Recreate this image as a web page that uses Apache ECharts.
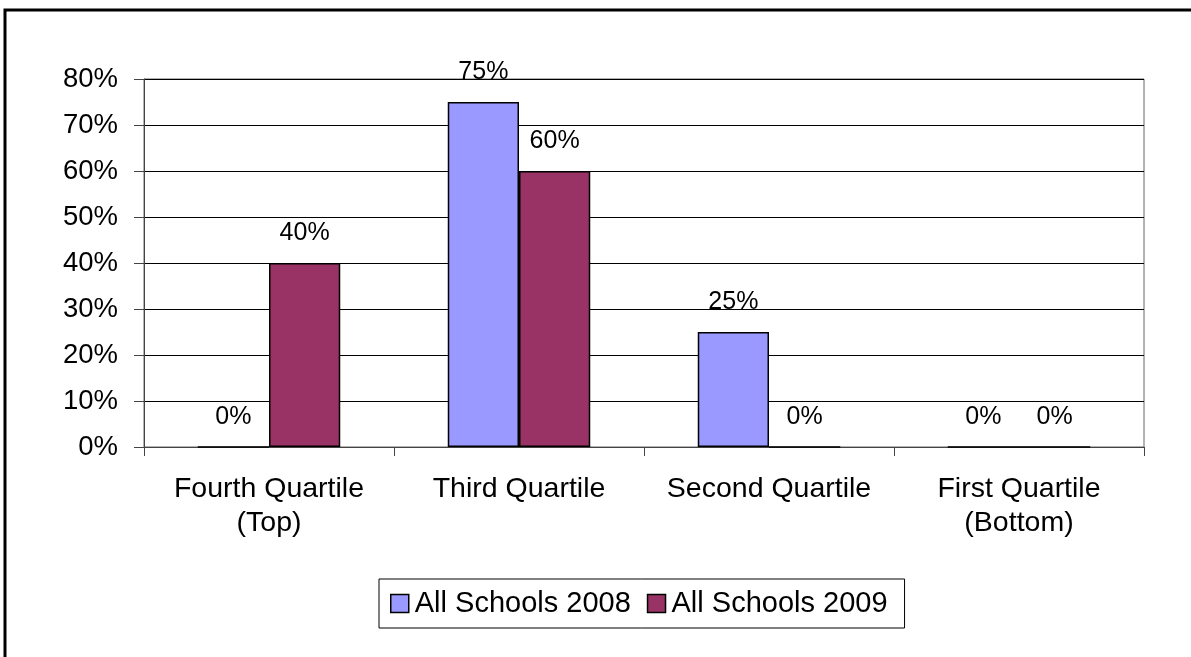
<!DOCTYPE html>
<html>
<head>
<meta charset="utf-8">
<script src="https://cdn.jsdelivr.net/npm/echarts@6/dist/echarts.min.js"></script>
<style>
  html, body { margin: 0; padding: 0; background: #fff; overflow: hidden; }
  #chart { width: 1191px; height: 657px; }
</style>
</head>
<body>
<div id="chart"></div>
<script>
// Quartile categories and shares (%)
const categories = ['Fourth Quartile\n(Top)', 'Third Quartile', 'Second Quartile', 'First Quartile\n(Bottom)']
const schools2008 = [0, 75, 25, 0]
const schools2009 = [40, 60, 0, 0]
const seriesNames = ['All Schools 2008', 'All Schools 2009']

const chart = echarts.init(document.getElementById('chart'))
const font = 'Liberation Sans, Arial, sans-serif'

const makeSeries = (name, data, color) => ({
  name: name,
  type: 'bar',
  data: data,
  barGap: '0%',
  barCategoryGap: '43%',
  itemStyle: { color: color, borderColor: '#000', borderWidth: 1.5 },
  label: {
    show: true,
    position: 'top',
    distance: 17,
    formatter: '{c}%',
    color: '#000',
    fontFamily: font,
    fontSize: 25
  }
})

chart.setOption({
  backgroundColor: '#fff',
  animation: false,
  // outer chart frame: only left and top edges fall inside the picture
  graphic: [{
    type: 'polyline',
    shape: { points: [[5, 700], [5, 10], [1300, 10]] },
    style: { fill: null, stroke: '#000', lineWidth: 3 },
    z: 100
  }],
  grid: {
    left: 144, right: 47, top: 79, bottom: 210,
    show: true, borderColor: '#666', borderWidth: 1,
    containLabel: false
  },
  legend: {
    left: 379,
    top: 579,
    padding: [10, 17, 10, 11],
    itemWidth: 18,
    itemHeight: 18,
    itemGap: 16,
    borderColor: '#000',
    borderWidth: 1,
    icon: 'rect',
    itemStyle: { borderColor: '#000', borderWidth: 1.5 },
    textStyle: { color: '#000', fontFamily: font, fontSize: 29, padding: [2, 0, 0, 1] },
    data: seriesNames
  },
  xAxis: {
    type: 'category',
    data: categories,
    axisLine: { lineStyle: { color: '#444', width: 1 } },
    axisTick: { show: true, length: 9, lineStyle: { color: '#444' } },
    axisLabel: {
      color: '#000', fontFamily: font, fontSize: 28.5, margin: 25,
      lineHeight: 34, interval: 0
    }
  },
  yAxis: {
    type: 'value',
    min: 0, max: 80, interval: 10,
    axisLine: { show: true, lineStyle: { color: '#444', width: 1 } },
    axisTick: { show: true, length: 10, lineStyle: { color: '#444' } },
    axisLabel: { color: '#000', fontFamily: font, fontSize: 27.5, margin: 26, formatter: '{value}%' },
    splitLine: { lineStyle: { color: '#000', width: 1 } }
  },
  series: [
    makeSeries(seriesNames[0], schools2008, '#9999FF'),
    makeSeries(seriesNames[1], schools2009, '#993366')
  ]
})

window.addEventListener('resize', () => chart.resize())
</script>
</body>
</html>
